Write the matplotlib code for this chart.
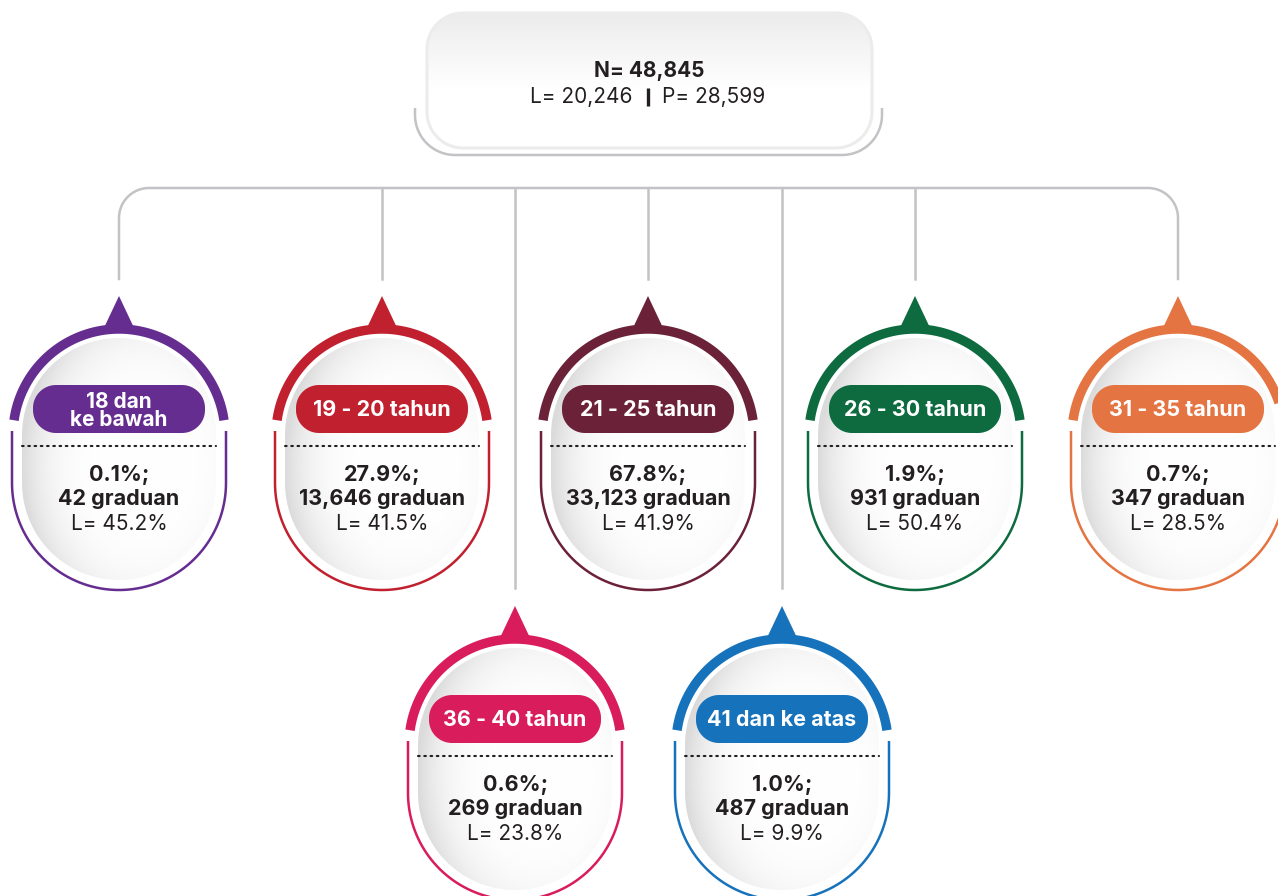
import numpy as np
import matplotlib
matplotlib.use('Agg')
import matplotlib.pyplot as plt
from matplotlib.path import Path
from matplotlib.patches import PathPatch, Polygon

plt.rcParams['font.family'] = ['Inter', 'DejaVu Sans']

# 数据
total_n = '48,845'
total_l = '20,246'
total_p = '28,599'
groups = ['18 dan\nke bawah', '19 - 20 tahun', '21 - 25 tahun', '26 - 30 tahun',
          '31 - 35 tahun', '36 - 40 tahun', '41 dan ke atas']
shares = ['0.1%', '27.9%', '67.8%', '1.9%', '0.7%', '0.6%', '1.0%']
counts = ['42', '13,646', '33,123', '931', '347', '269', '487']
male_pct = ['45.2%', '41.5%', '41.9%', '50.4%', '28.5%', '23.8%', '9.9%']
colors = ['#662d91', '#c1202f', '#6b2238', '#0d6b3f', '#e47441', '#d81c5c', '#1572bb']

# 布局 (像素坐标)
node_x = [119, 382, 648, 915, 1178, 515, 782]
node_y = [435, 435, 435, 435, 435, 745, 745]

TXT = '#231f20'
LINE = '#c3c3c7'

fig = plt.figure(figsize=(12.78, 8.96), dpi=100)
ax = fig.add_axes([0, 0, 1, 1])
ax.set_xlim(0, 1278)
ax.set_ylim(896, 0)
ax.axis('off')


def rounded_path(x0, y0, x1, y1, r):
    # 圆角矩形路径
    n = 20
    pts = []
    for cx, cy, a0 in [(x1 - r, y0 + r, -90), (x1 - r, y1 - r, 0),
                       (x0 + r, y1 - r, 90), (x0 + r, y0 + r, 180)]:
        a = np.radians(np.linspace(a0, a0 + 90, n))
        pts += list(zip(cx + r * np.cos(a), cy + r * np.sin(a)))
    pts.append(pts[0])
    return Path(pts)


def gradient_fill(path, extent, func):
    x0, x1, y0, y1 = extent
    xs = np.linspace(x0, x1, 200)
    ys = np.linspace(y0, y1, 200)
    X, Y = np.meshgrid(xs, ys)
    v = func(X, Y)
    img = np.dstack([v, v, v])
    im = ax.imshow(img, extent=(x0, x1, y1, y0), origin='upper',
                   interpolation='bilinear', zorder=1)
    clip = PathPatch(path, transform=ax.transData, facecolor='none', edgecolor='none')
    im.set_clip_path(clip)


# 顶部总数框
box = rounded_path(427, 13, 872, 148, 36)
gradient_fill(box, (427, 872, 13, 148),
              lambda X, Y: 0.925 + 0.075 * np.clip((Y - 13) / 75, 0, 1))
ax.add_patch(PathPatch(box, facecolor='none', edgecolor='#ececec', lw=2.2, zorder=2))
bl = [(455 - 40 * np.cos(t), 115 + 40 * np.sin(t)) for t in np.radians(np.linspace(0, 90, 20))]
br = [(842 + 40 * np.cos(t), 115 + 40 * np.sin(t)) for t in np.radians(np.linspace(90, 0, 20))]
bx, by = zip(*([(415, 108)] + bl + br + [(882, 108)]))
ax.plot(bx, by, color=LINE, lw=1.8, solid_capstyle='butt', zorder=2)

ax.text(649, 71, 'N= ' + total_n, ha='center', va='center', fontsize=15,
        fontweight='bold', color=TXT, zorder=3)
ax.text(633, 97, 'L= ' + total_l, ha='right', va='center', fontsize=15, color=TXT, zorder=3)
ax.plot([648, 648], [88, 106], color=TXT, lw=2.4, solid_capstyle='butt', zorder=3)
ax.text(662, 97, 'P= ' + total_p, ha='left', va='center', fontsize=15, color=TXT, zorder=3)

# 连接线
r = 30
top_y = 188
cxs = node_x[:5]
a = np.radians(np.linspace(180, 270, 20))
lx = list(cxs[0] + r + r * np.cos(a))
ly = list(top_y + r + r * np.sin(a))
a = np.radians(np.linspace(270, 360, 20))
rx = list(cxs[-1] - r + r * np.cos(a))
ry = list(top_y + r + r * np.sin(a))
ax.plot([cxs[0]] + lx + rx + [cxs[-1]], [279] + ly + ry + [279],
        color=LINE, lw=1.8, zorder=1)
for x in cxs[1:4]:
    ax.plot([x, x], [top_y, 279], color=LINE, lw=1.8, zorder=1)
for x in node_x[5:]:
    ax.plot([x, x], [top_y, 588], color=LINE, lw=1.8, zorder=1)


def capsule(cx, cy, rad, drop):
    a = np.radians(np.linspace(180, 0, 60))
    pts = list(zip(cx + rad * np.cos(a), cy - rad * np.sin(a)))
    a = np.radians(np.linspace(0, 180, 60))
    pts += list(zip(cx + rad * np.cos(a), cy + drop + rad * np.sin(a)))
    pts.append(pts[0])
    return Path(pts)


# 各年龄组节点
for i in range(len(groups)):
    cx, cy = node_x[i], node_y[i]
    col = colors[i]

    inner = capsule(cx, cy, 97, 48)
    gradient_fill(inner, (cx - 100, cx + 100, cy - 100, cy + 150),
                  lambda X, Y, cx=cx, cy=cy: 1 - 0.14 * np.clip(
                      ((X - cx - 25) / 122) ** 2 + ((Y - cy - 30) / 165) ** 2, 0, 1) ** 2.2)

    # 上方粗弧
    a = np.radians(np.linspace(8, 172, 80))
    ax.plot(cx + 106 * np.cos(a), cy - 106 * np.sin(a), color=col, lw=6.8,
            solid_capstyle='butt', zorder=3)
    ax.add_patch(Polygon([(cx - 17, cy - 103), (cx, cy - 139), (cx + 17, cy - 103)],
                         closed=True, facecolor=col, edgecolor='none', zorder=3))

    # 下方细线
    a = np.radians(np.linspace(0, 180, 80))
    ox = [cx + 107] + list(cx + 107 * np.cos(a)) + [cx - 107]
    oy = [cy - 4] + list(cy + 48 + 107 * np.sin(a)) + [cy - 4]
    ax.plot(ox, oy, color=col, lw=1.8, solid_capstyle='butt', zorder=3)

    # 标签
    pill = rounded_path(cx - 86, cy - 50, cx + 86, cy - 2, 23)
    ax.add_patch(PathPatch(pill, facecolor=col, edgecolor='none', zorder=4))
    two = '\n' in groups[i]
    ax.text(cx, cy - 25 + (1 if two else 0), groups[i], ha='center', va='center',
            fontsize=15 if two else 15.5, fontweight='bold', color='white',
            linespacing=0.88, zorder=5)

    ax.plot([cx - 97, cx + 97], [cy + 11, cy + 11], color=TXT, lw=1.5,
            linestyle=(0, (0.8, 2.2)), dash_capstyle='round', zorder=4)

    ax.text(cx, cy + 40, shares[i] + ';', ha='center', va='center', fontsize=15.5,
            fontweight='bold', color=TXT, zorder=5)
    ax.text(cx, cy + 64, counts[i] + ' graduan', ha='center', va='center',
            fontsize=15.5, fontweight='bold', color=TXT, zorder=5)
    ax.text(cx, cy + 89, 'L= ' + male_pct[i], ha='center', va='center',
            fontsize=15, color=TXT, zorder=5)

fig.savefig('out.png', dpi=100)
